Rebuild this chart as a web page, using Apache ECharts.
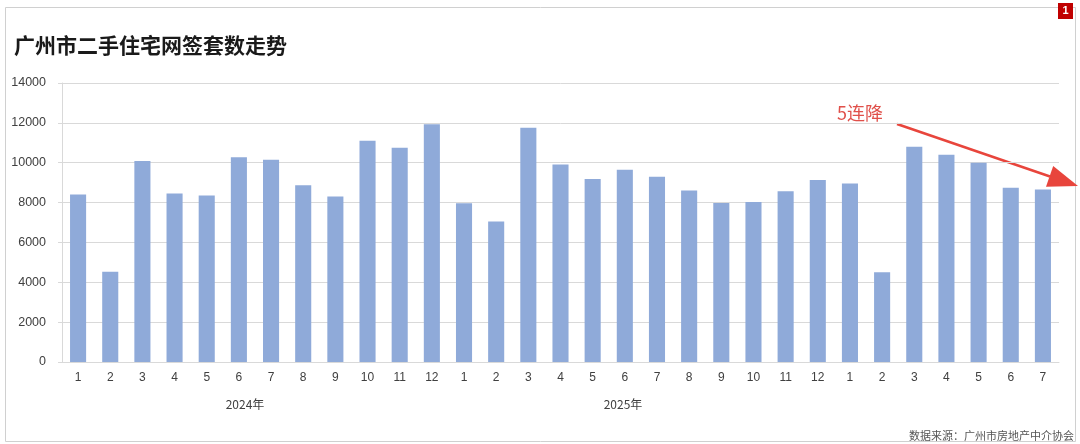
<!DOCTYPE html>
<html>
<head>
<meta charset="utf-8">
<script src="https://cdn.jsdelivr.net/npm/echarts@6/dist/echarts.min.js"></script>
<style>
html,body{margin:0;padding:0;background:#fff;}
#chart{width:1080px;height:444px;}
</style>
</head>
<body>
<div id="chart"></div>
<script>
// Data
var monthLabels = ['1','2','3','4','5','6','7','8','9','10','11','12',
                   '1','2','3','4','5','6','7','8','9','10','11','12',
                   '1','2','3','4','5','6','7'];
var salesCounts = [8400, 4530, 10080, 8450, 8350, 10270, 10150, 8870, 8300, 11100, 10750, 11930,
                   7960, 7050, 11750, 9910, 9180, 9650, 9300, 8600, 7980, 8030, 8570, 9130,
                   8960, 4500, 10800, 10400, 10000, 8750, 8660];
var yearLabels = ['2024年', '2025年'];
var titleText = '广州市二手住宅网签套数走势';
var noteText = '5连降';
var sourceText = '数据来源：广州市房地产中介协会';

var chart = echarts.init(document.getElementById('chart'), null, {renderer: 'canvas'});
var cjk = '"Noto Sans CJK SC", "Noto Sans", sans-serif';
var num = '"Liberation Sans", "Noto Sans", sans-serif';

chart.setOption({
  backgroundColor: '#ffffff',
  animation: false,
  title: {
    text: titleText,
    left: 9, top: 30,
    textStyle: {fontFamily: cjk, fontSize: 21, fontWeight: 'bold', color: '#1a1a1a'}
  },
  grid: {left: 62, right: 21, top: 83, bottom: 82, containLabel: false},
  xAxis: {
    type: 'category',
    data: monthLabels,
    axisLine: {show: true, lineStyle: {color: '#d9d9d9', width: 1}},
    axisTick: {show: false},
    axisLabel: {color: '#404040', fontSize: 12, fontFamily: num, margin: 10, interval: 0}
  },
  yAxis: {
    type: 'value',
    min: 0, max: 14000, interval: 2000,
    axisLine: {show: true, lineStyle: {color: '#d9d9d9', width: 1}},
    axisTick: {show: true, length: 4, lineStyle: {color: '#d9d9d9'}},
    splitLine: {show: true, lineStyle: {color: '#d9d9d9', width: 1}},
    axisLabel: {color: '#404040', fontSize: 12.5, fontFamily: num, margin: 16,
                formatter: function (v) { return String(v); }}
  },
  series: [{
    type: 'bar',
    data: salesCounts,
    barWidth: '50%',
    itemStyle: {color: '#8faad9'}
  }],
  graphic: [
    {type: 'rect', shape: {x: 5.5, y: 7.5, width: 1070, height: 434}, style: {fill: 'none', stroke: '#d0d0d0', lineWidth: 1}, silent: true, z: -1},
    {type: 'rect', shape: {x: 1058, y: 3, width: 15, height: 16}, style: {fill: '#c00000'}},
    {type: 'text', x: 1065.5, y: 11, style: {text: '1', fill: '#ffffff', font: 'bold 11px ' + num, textAlign: 'center', textVerticalAlign: 'middle'}},
    {type: 'text', x: 245, y: 404, style: {text: yearLabels[0], fill: '#404040', font: '12px ' + cjk, textAlign: 'center', textVerticalAlign: 'middle'}},
    {type: 'text', x: 623, y: 404, style: {text: yearLabels[1], fill: '#404040', font: '12px ' + cjk, textAlign: 'center', textVerticalAlign: 'middle'}},
    {type: 'text', x: 860, y: 113, style: {text: noteText, fill: '#e0504a', font: '18px ' + cjk, textAlign: 'center', textVerticalAlign: 'middle'}},
    {type: 'line', shape: {x1: 897, y1: 124, x2: 1050, y2: 176.5}, style: {stroke: '#e8453c', lineWidth: 2.5}},
    {type: 'polygon', shape: {points: [[1078, 186], [1046, 186.7], [1053.2, 165.9]]}, style: {fill: '#e8453c'}},
    {type: 'text', x: 1074, y: 436, style: {text: sourceText, fill: '#555555', font: '11px ' + cjk, textAlign: 'right', textVerticalAlign: 'middle'}}
  ]
});
</script>
</body>
</html>
